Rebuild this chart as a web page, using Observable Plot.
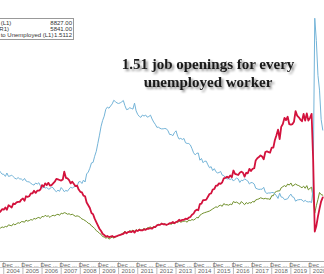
<!DOCTYPE html>
<html><head><meta charset="utf-8">
<script src="https://cdn.jsdelivr.net/npm/d3@7"></script>
<script src="https://cdn.jsdelivr.net/npm/@observablehq/plot@0.6"></script>
<style>
body{margin:0;background:#fff;}
#wrap{position:relative;width:324px;height:274px;overflow:hidden;background:#fff;}
#legend{position:absolute;left:-40px;top:18px;width:110px;border:1px solid #999;background:#fff;
  font:6px "Liberation Sans",Arial,sans-serif;color:#333;padding:0.5px 1px 1px 1px;line-height:6px;}
#legend .row{display:flex;justify-content:space-between;white-space:nowrap;}
</style></head>
<body><div id="wrap"><div id="chart"></div><div id="legend"></div></div>
<script>
// monthly series, Oct 2003 .. Sep 2020
const firstMonth = [2003, 9];
const unemployed = [8790, 8560, 8380,
 8370, 8170, 8490, 8170, 8210, 8290, 8140, 7990, 7930, 8060, 7930, 7930,
 7780, 7980, 7740, 7670, 7650, 7520, 7410, 7350, 7550, 7450, 7570, 7280,
 7060, 7180, 7070, 7120, 6980, 7000, 7180, 7090, 6850, 6730, 6870, 6760,
 7120, 6930, 6730, 6850, 6770, 6980, 7150, 7070, 7170, 7240, 7240, 7650,
 7690, 7500, 7820, 7640, 8400, 8580, 8940, 9440, 9490, 10070, 10540, 11290,
 12060, 12900, 13430, 13850, 14500, 14710, 14600, 14810, 15010, 15350, 15220, 15100,
 15050, 15110, 15200, 15330, 14850, 14470, 14510, 14650, 14580, 14520, 15080, 14350,
 14010, 13820, 13740, 13960, 13860, 13960, 13760, 13820, 13950, 13590, 13300, 13090,
 12800, 12810, 12710, 12650, 12660, 12690, 12660, 12470, 12120, 12120, 12010, 12300,
 12470, 11950, 11690, 11760, 11650, 11750, 11340, 11280, 11270, 11140, 10790, 10400,
 10200, 10350, 10380, 9700, 9860, 9460, 9610, 9600, 9260, 8990, 9090, 8720,
 8900, 8610, 8500, 8530, 8640, 8290, 8250, 8040, 7930, 7950, 7880, 7960,
 7730, 7890, 8010, 7930, 7600, 7810, 7760, 7940, 7830, 7740, 7450, 7590,
 7570, 7450, 7060, 6990, 6940, 6960, 6960, 7140, 6680, 6560, 6610, 6600,
 6650, 6650, 6530, 6340, 6090, 6590, 6220, 6190, 5980, 6010, 6060, 6310,
 6500, 6230, 6190, 5830, 5940, 5970, 5990, 5960, 5790, 5910, 5790, 5760,
 5790, 5700, 7180, 23090, 20990, 17700, 16310, 13540, 12540];
const openings = [3250, 3300, 3400,
 3350, 3450, 3400, 3600, 3550, 3500, 3700, 3600, 3700, 3800, 3750, 3900,
 3900, 3850, 4050, 3950, 4000, 4100, 4050, 4200, 4150, 4250, 4300, 4200,
 4400, 4350, 4500, 4400, 4450, 4300, 4450, 4500, 4450, 4550, 4600, 4500,
 4700, 4650, 4750, 4700, 4600, 4650, 4550, 4600, 4500, 4400, 4450, 4400,
 4300, 4150, 4100, 4000, 3900, 3750, 3700, 3500, 3400, 3250, 3050, 2950,
 2800, 2700, 2500, 2450, 2350, 2400, 2250, 2350, 2450, 2350, 2450, 2500,
 2600, 2650, 2750, 2850, 3000, 2800, 2950, 3050, 3000, 3100, 3000, 3150,
 3050, 3200, 3100, 3150, 3250, 3200, 3300, 3350, 3400, 3300, 3450, 3400,
 3550, 3650, 3600, 3750, 3650, 3700, 3600, 3650, 3700, 3650, 3750, 3700,
 3900, 3800, 3950, 3850, 3900, 3950, 3950, 3850, 4050, 4000, 4100, 4050,
 4150, 4300, 4250, 4500, 4600, 4700, 4750, 4800, 4850, 4900, 5000, 5100,
 5200, 5300, 5250, 5400, 5450, 5350, 5600, 5500, 5500, 5450, 5550, 5500,
 5800, 5700, 5750, 5650, 5550, 5800, 5650, 5500, 5700, 5600, 5700, 5650,
 5800, 5750, 5950, 6000, 6050, 6150, 6100, 6050, 6100, 6050, 6050, 6000,
 6350, 6350, 6650, 6750, 6800, 6800, 7100, 7200, 7300, 7200, 7450, 7350,
 7550, 7250, 7350, 7450, 7350, 7300, 7200, 7100, 7250, 7050, 7300, 6900,
 7050, 7150, 6100, 4700, 5400, 6000, 6650, 6450, 6400];
const ratio = [0.37, 0.385, 0.405,
 0.40, 0.42, 0.40, 0.44, 0.43, 0.42, 0.455, 0.45, 0.465, 0.47, 0.47, 0.49,
 0.50, 0.48, 0.52, 0.515, 0.52, 0.545, 0.545, 0.57, 0.55, 0.57, 0.57, 0.58,
 0.62, 0.605, 0.635, 0.62, 0.64, 0.615, 0.62, 0.635, 0.65, 0.675, 0.67, 0.665,
 0.66, 0.67, 0.74, 0.685, 0.68, 0.665, 0.635, 0.65, 0.63, 0.61, 0.615, 0.58,
 0.56, 0.555, 0.525, 0.52, 0.465, 0.44, 0.415, 0.37, 0.36, 0.32, 0.29, 0.26,
 0.23, 0.21, 0.185, 0.175, 0.16, 0.165, 0.155, 0.16, 0.165, 0.155, 0.16, 0.165,
 0.17, 0.175, 0.18, 0.185, 0.2, 0.19, 0.2, 0.205, 0.2, 0.21, 0.195, 0.215,
 0.21, 0.22, 0.215, 0.215, 0.225, 0.22, 0.23, 0.23, 0.235, 0.23, 0.245, 0.245,
 0.26, 0.265, 0.265, 0.275, 0.27, 0.27, 0.265, 0.27, 0.28, 0.28, 0.29, 0.28,
 0.29, 0.295, 0.31, 0.3, 0.31, 0.31, 0.32, 0.315, 0.33, 0.335, 0.355, 0.365,
 0.39, 0.40, 0.395, 0.45, 0.455, 0.485, 0.485, 0.49, 0.515, 0.54, 0.545, 0.58,
 0.585, 0.615, 0.615, 0.635, 0.63, 0.645, 0.68, 0.685, 0.695, 0.685, 0.705, 0.69,
 0.75, 0.72, 0.715, 0.71, 0.73, 0.74, 0.73, 0.695, 0.73, 0.725, 0.765, 0.745,
 0.765, 0.77, 0.84, 0.86, 0.87, 0.885, 0.875, 0.85, 0.915, 0.92, 0.915, 0.91,
 0.955, 0.955, 1.02, 1.065, 1.115, 1.03, 1.14, 1.165, 1.22, 1.2, 1.23, 1.165,
 1.16, 1.165, 1.185, 1.28, 1.24, 1.225, 1.205, 1.19, 1.255, 1.195, 1.26, 1.195,
 1.22, 1.255, 0.85, 0.205, 0.255, 0.34, 0.41, 0.475, 0.51];
const years = [2004, 2005, 2006, 2007, 2008, 2009, 2010, 2011, 2012, 2013, 2014, 2015, 2016, 2017, 2018, 2019, 2020];
const monthTickLabel = "Dec ...";
const legendLabels = ["Job Openings (L1)", "Unemployed (R1)", "Job Openings to Unemployed (L1)"];
const legendValues = ["8827.00", "5841.00", "1.5112"];
const headline = ["1.51 job openings for every", "unemployed worker"];

// layout
const decToDate = t => new Date(Date.UTC(Math.floor(t), 0, 1) + (t - Math.floor(t)) * 365.25 * 864e5);
const xDomain = [decToDate(2003.83), decToDate(2020.758)];
const yLeft = [141.5, 24764];
const yRatio = [-0.0625, 2.268];
const toLeft = d3.scaleLinear(yRatio, yLeft);

const start = new Date(Date.UTC(firstMonth[0], firstMonth[1], 1));
const rows = unemployed.map((u, i) => ({date: d3.utcMonth.offset(start, i), u, o: openings[i], r: ratio[i]}));
const yearStarts = years.map(y => new Date(Date.UTC(y, 0, 1)));
const decTicks = years.map(y => new Date(Date.UTC(y - 1, 11, 1)));
const midYears = years.map(y => new Date(Date.UTC(y, 6, 1)));

const plot = Plot.plot({
  width: 324, height: 274,
  marginLeft: 0, marginRight: 0, marginTop: 0, marginBottom: 13,
  style: {background: "#fff", fontFamily: "Liberation Sans, Arial, sans-serif"},
  x: {type: "utc", domain: xDomain, axis: null},
  y: {domain: yLeft, axis: null},
  marks: [
    Plot.frame({anchor: "bottom", stroke: "#aaa"}),
    Plot.frame({anchor: "bottom", stroke: "#ccc", dy: 6}),
    Plot.axisX({ticks: yearStarts, tickSize: 13, tickFormat: () => "", stroke: "#bbb"}),
    Plot.axisX({ticks: decTicks, tickFormat: () => monthTickLabel, tickSize: 0, tickPadding: 1, textAnchor: "start", fontSize: 6, fill: "#666"}),
    Plot.axisX({ticks: midYears, tickFormat: d => String(d.getUTCFullYear()), tickSize: 0, tickPadding: 7.5, fontSize: 6, fill: "#666"}),
    Plot.lineY(rows, {x: "date", y: "o", stroke: "#6f8f2a", strokeWidth: 1, clip: true}),
    Plot.lineY(rows, {x: "date", y: "u", stroke: "#74b4d8", strokeWidth: 1, clip: true}),
    Plot.lineY(rows, {x: "date", y: d => toLeft(d.r), stroke: "#d3123d", strokeWidth: 1.8, clip: true}),
    Plot.text([headline.join("\n")], {text: d => d, frameAnchor: "top-left", dx: 207.5, dy: 56,
      textAnchor: "middle", lineAnchor: "top", lineHeight: 1.2, fontSize: 15, fontWeight: "bold",
      fontFamily: "Liberation Serif, Times New Roman, serif", fill: "#1a1a1a"})
  ]
});
d3.select(plot).selectAll('g[aria-label="text"]').style("filter", "drop-shadow(2px 2px 1.2px rgba(0,0,0,0.45))");
document.getElementById("chart").appendChild(plot);

const lg = d3.select("#legend");
legendLabels.forEach((l, i) => {
  const r = lg.append("div").attr("class", "row");
  r.append("span").text(l);
  r.append("span").text(legendValues[i]);
});
</script>
</body></html>
